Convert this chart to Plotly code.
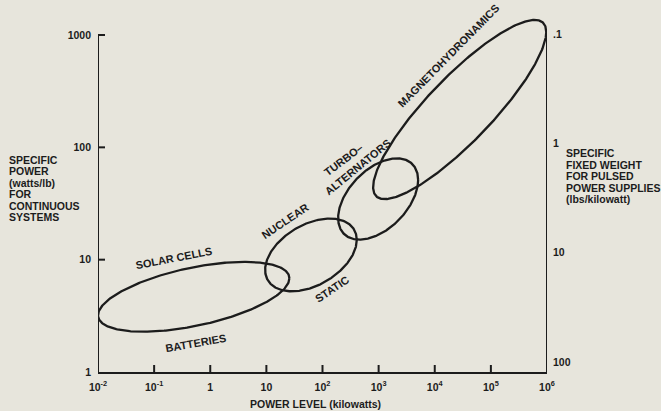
import numpy as np
import plotly.graph_objects as go

# ---------------- data ----------------
x_tickvals = [1e-2, 1e-1, 1, 10, 1e2, 1e3, 1e4, 1e5, 1e6]
x_ticktext = ["10<sup>-2</sup>", "10<sup>-1</sup>", "1", "10", "10<sup>2</sup>",
              "10<sup>3</sup>", "10<sup>4</sup>", "10<sup>5</sup>", "10<sup>6</sup>"]
y_tickvals = [1, 10, 100, 1000]
y_ticktext = ["1", "10", "100", "1000"]
y2_tickvals = [0.1, 1, 10, 100]
y2_ticktext = [".1", "1", "10", "100"]

# Each region: left end and right end (power level kW, specific power W/lb)
# and half-thickness of the loop (decades of specific power)
region_names = ["Solar cells / batteries", "Nuclear / static",
                "Turbo-alternators", "Magnetohydrodynamics"]
left_kw = [0.01, 9.5, 190, 798]
left_wlb = [3.2, 8.1, 23.5, 44.3]
right_kw = [25.7, 408, 5060, 9.7e5]
right_wlb = [6.82, 15.0, 51.2, 1063]
half_thickness = [0.264, 0.295, 0.32, 0.40]

# Region labels (text, kW, W/lb, angle)
label_text = ["SOLAR CELLS", "BATTERIES", "NUCLEAR", "STATIC", "TURBO–",
              "ALTERNATORS", "MAGNETOHYDRONAMICS"]
label_kw = [0.226, 0.558, 21.5, 148, 233, 423, 17300]
label_wlb = [10.3, 1.81, 22.2, 5.47, 77.1, 67.1, 650]
label_angle = [-11, -10, -34, -34, -37, -39, -45.5]

left_title = ["SPECIFIC", "POWER", "(watts/lb)", "FOR", "CONTINUOUS", "SYSTEMS"]
right_title = ["SPECIFIC", "FIXED WEIGHT", "FOR PULSED", "POWER SUPPLIES", "(lbs/kilowatt)"]
x_title = "POWER LEVEL (kilowatts)"

# ---------------- figure ----------------
BG = "#e7e5dc"
INK = "#1c1c1c"
FONT = "Liberation Sans, Arial, sans-serif"

W, H = 661, 411
ML, MR, MT, MB = 98, 114, 15, 39
PW, PH = W - ML - MR, H - MT - MB
X_DEC_PX = PW / 8.0          # pixels per decade on x
Y_TOP = 3 + (35 - MT) / 112.3
Y_DEC_PX = PH / Y_TOP        # pixels per decade on y
TICK_PX = 7

fig = go.Figure()

t = np.linspace(0, 2 * np.pi, 361)
for name, lk, lw, rk, rw, h in zip(region_names, left_kw, left_wlb, right_kw, right_wlb, half_thickness):
    lx0, ly0 = np.log10(lk), np.log10(lw)
    lx1, ly1 = np.log10(rk), np.log10(rw)
    cx, cy = (lx0 + lx1) / 2, (ly0 + ly1) / 2
    ux, uy = (lx1 - lx0) / 2, (ly1 - ly0) / 2
    xs = 10 ** (cx + ux * np.cos(t))
    ys = 10 ** (cy + uy * np.cos(t) + h * np.sin(t))
    fig.add_trace(go.Scatter(x=xs, y=ys, mode="lines", name=name,
                             line=dict(color=INK, width=2.3),
                             hoverinfo="skip", showlegend=False))

# inside tick marks drawn as short line segments
ymin, xmin = y_tickvals[0], x_tickvals[0]
ty_len = 10 ** (TICK_PX / Y_DEC_PX)
tx_len = 10 ** (TICK_PX / X_DEC_PX)
tx, ty = [], []
for v in x_tickvals[1:-1]:
    tx += [v, v, None]
    ty += [ymin, ymin * ty_len, None]
for v in y_tickvals[1:]:
    tx += [xmin, xmin * tx_len, None]
    ty += [v, v, None]
fig.add_trace(go.Scatter(x=tx, y=ty, mode="lines", line=dict(color=INK, width=2),
                         hoverinfo="skip", showlegend=False))

# left and right frame lines
fig.add_trace(go.Scatter(x=[xmin, xmin, None, x_tickvals[-1], x_tickvals[-1]],
                         y=[y_tickvals[0], y_tickvals[-1], None, y_tickvals[0], y_tickvals[-1] * 1.1],
                         mode="lines", line=dict(color=INK, width=2),
                         hoverinfo="skip", showlegend=False))

# invisible trace on the right axis so it is drawn
fig.add_trace(go.Scatter(x=[x_tickvals[-1]], y=[y2_tickvals[-1]], yaxis="y2",
                         mode="lines", showlegend=False, hoverinfo="skip"))

tickfont = dict(family=FONT, size=10.5, color=INK, weight="bold")
labfont = dict(family=FONT, size=11, color=INK, weight="bold")

ann = []
for txt, k, w, a in zip(label_text, label_kw, label_wlb, label_angle):
    ann.append(dict(x=np.log10(k), y=np.log10(w), xref="x", yref="y", text=txt,
                    textangle=a, showarrow=False, xanchor="center", yanchor="middle",
                    font=labfont))

def py2paper(py):
    return (H - MB - py) / PH

def px2paper(px):
    return (px - ML) / PW

for i, line in enumerate(left_title):
    ann.append(dict(x=px2paper(7), y=py2paper(160 + 11.4 * i), xref="paper", yref="paper",
                    text=line, showarrow=False, xanchor="left", yanchor="middle",
                    font=tickfont))
for i, line in enumerate(right_title):
    ann.append(dict(x=px2paper(564), y=py2paper(153.5 + 11.4 * i), xref="paper", yref="paper",
                    text=line, showarrow=False, xanchor="left", yanchor="middle",
                    font=tickfont))
ann.append(dict(x=px2paper(315), y=py2paper(404), xref="paper", yref="paper",
                text=x_title, showarrow=False, xanchor="center", yanchor="middle",
                font=tickfont))

fig.update_layout(
    width=W, height=H,
    margin=dict(l=ML, r=MR, t=MT, b=MB, pad=0),
    paper_bgcolor=BG, plot_bgcolor=BG,
    showlegend=False,
    xaxis=dict(type="log", range=[-2, 6], showgrid=False, zeroline=False,
               showline=True, linecolor=INK, linewidth=2,
               ticks="", ticklabelstandoff=4,
               tickvals=x_tickvals, ticktext=x_ticktext, tickfont=tickfont),
    yaxis=dict(type="log", range=[0, Y_TOP], showgrid=False, zeroline=False,
               showline=False, ticks="", ticklabelstandoff=6,
               tickvals=y_tickvals, ticktext=y_ticktext, tickfont=tickfont),
    yaxis2=dict(type="log", overlaying="y", side="right",
                range=[2 + (H - MB - 362) / 109.3, -1 - (34 - MT) / 109.3],
                showgrid=False, zeroline=False, showline=False, ticks="",
                ticklabelstandoff=5,
                tickvals=y2_tickvals, ticktext=y2_ticktext, tickfont=tickfont),
    annotations=ann,
)

fig.write_html("out.html", config={"displayModeBar": False},
               post_script="document.body.style.margin='0';document.body.style.padding='0';document.body.style.background='" + BG + "';")
